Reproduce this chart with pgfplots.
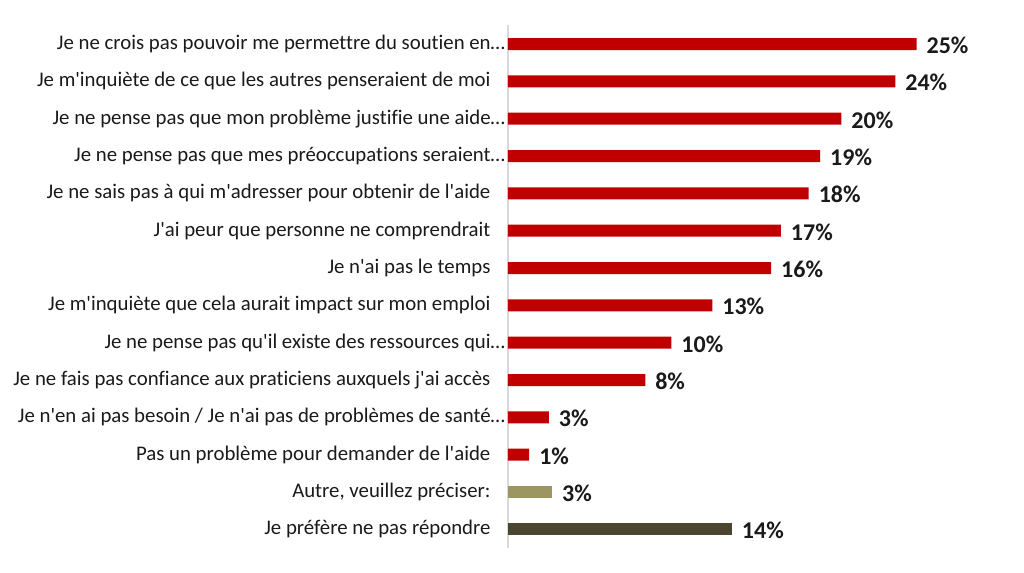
\documentclass[border=0pt]{standalone}
\usepackage{pgfplots}
\pgfplotsset{compat=1.18}
\usepackage{pgfplotstable}
\usepackage{fontspec}
\setmainfont{Carlito}[Ligatures={TeXOff,CommonOff}]
\definecolor{barred}{HTML}{C00000}
\definecolor{barolive}{HTML}{9E9660}
\definecolor{bardark}{HTML}{4B4430}
\definecolor{txt}{HTML}{1A1A1A}
\definecolor{axgray}{HTML}{D9D9D9}
\newcommand{\tsp}{\hspace*{11pt}}

% y = position (0 = top), x = bar length, v = printed value
\pgfplotstableread{
y x v
0 25.0 25
1 23.7 24
2 20.4 20
3 19.1 19
4 18.4 18
5 16.7 17
6 16.1 16
7 12.5 13
8 10.0 10
9 8.4 8
10 2.5 3
11 1.3 1
}\redtable
\pgfplotstableread{
y x v
12 2.7 3
}\olivetable
\pgfplotstableread{
y x v
13 13.7 14
}\darktable

\begin{document}
\begin{tikzpicture}
\begin{axis}[
  at={(0,0)}, anchor=south west,
  scale only axis,
  width=380pt, height=392pt,
  xbar, bar width=9pt, bar shift=0pt,
  xmin=0, xmax=31,
  ymin=-0.5, ymax=13.5,
  y dir=reverse,
  axis x line=none,
  axis y line*=left,
  axis line style={axgray, line width=0.8pt},
  y axis line style={-},
  ytick={0,...,13},
  major tick length=0pt,
  yticklabels={
    {Je ne crois pas pouvoir me permettre du soutien en…},
    {Je m'inquiète de ce que les autres penseraient de moi\tsp},
    {Je ne pense pas que mon problème justifie une aide…},
    {Je ne pense pas que mes préoccupations seraient…},
    {Je ne sais pas à qui m'adresser pour obtenir de l'aide\tsp},
    {J'ai peur que personne ne comprendrait\tsp},
    {Je n'ai pas le temps\tsp},
    {Je m'inquiète que cela aurait impact sur mon emploi\tsp},
    {Je ne pense pas qu'il existe des ressources qui…},
    {Je ne fais pas confiance aux praticiens auxquels j'ai accès\tsp},
    {Je n'en ai pas besoin / Je n'ai pas de problèmes de santé…},
    {Pas un problème pour demander de l'aide\tsp},
    {Autre, veuillez préciser:\tsp},
    {Je préfère ne pas répondre\tsp}
  },
  yticklabel style={font=\fontsize{15.6}{18}\selectfont, text=txt, inner sep=2pt},
  point meta=explicit,
  nodes near coords={\pgfmathprintnumber[fixed,precision=0,assume math mode=true]{\pgfplotspointmeta}\%},
  nodes near coords style={font=\fontsize{18}{20}\selectfont\bfseries, text=txt, anchor=west, xshift=4pt, yshift=-1pt},
  clip=false,
]
\addplot[fill=barred, draw=none] table[x=x, y=y, meta=v] {\redtable};
\addplot[fill=barolive, draw=none] table[x=x, y=y, meta=v] {\olivetable};
\addplot[fill=bardark, draw=none] table[x=x, y=y, meta=v] {\darktable};
\end{axis}
\pgfresetboundingbox
\path[use as bounding box] (-381pt,-18pt) rectangle (387pt,411pt);
\end{tikzpicture}
\end{document}
